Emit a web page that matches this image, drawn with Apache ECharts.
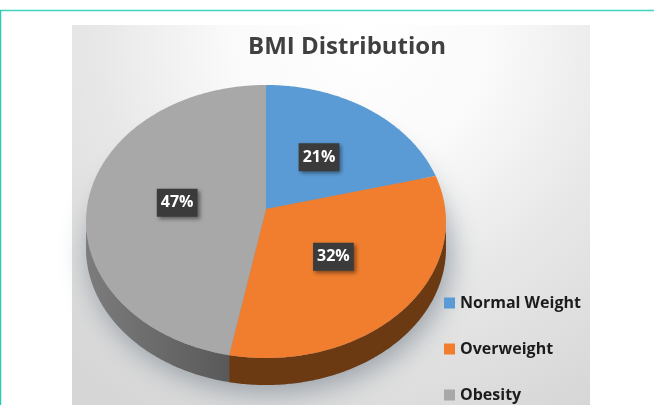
<!DOCTYPE html>
<html><head><meta charset="utf-8">
<style>html,body{margin:0;padding:0;background:#fff}#c{width:654px;height:405px}</style>
<script src="https://cdn.jsdelivr.net/npm/echarts@6/dist/echarts.min.js"></script>
</head><body><div id="c"></div>
<script>
const categories = ['Normal Weight', 'Overweight', 'Obesity'];
const shares = [21, 32, 47];
const topColors = ['#5b9bd5', '#f07e2e', '#a8a8a8'];
const sideColors = ['#34597b', '#6b3a12', '#666666'];
const titleText = 'BMI Distribution';

const total = shares.reduce((a, b) => a + b, 0);
// perspective view of the pie disc
const view = { cx: 266, cy: 209, rx: 179.2, ry: 135.4, p: 0.0916, depth: 27 };
function project(theta, r, drop) {
  const u = Math.sin(theta) * r, v = -Math.cos(theta) * r;
  const d = 1 - view.p * v;
  return [view.cx + view.rx * u / d, view.cy + view.ry * v / d + (drop || 0)];
}
function arc(a0, a1, drop) {
  const n = Math.max(2, Math.ceil(Math.abs(a1 - a0) / 0.01));
  const pts = [];
  for (let i = 0; i <= n; i++) pts.push(project(a0 + (a1 - a0) * i / n, 1, drop));
  return pts;
}
const SIDE_A = 95 * Math.PI / 180, SIDE_B = 265 * Math.PI / 180;

function renderSlice(params, api) {
  const idx = params.seriesIndex;
  const value = api.value(0);
  const before = shares.slice(0, idx).reduce((a, b) => a + b, 0);
  const a0 = before / total * 2 * Math.PI;
  const a1 = (before + value) / total * 2 * Math.PI;
  const mid = (a0 + a1) / 2;
  const kids = [];
  if (idx === 0) {
    kids.push({
      type: 'polygon', z2: 0, silent: true,
      shape: { points: arc(0, 2 * Math.PI, view.depth - 3) },
      style: { fill: '#8a9096', shadowBlur: 30, shadowColor: 'rgba(95,110,125,0.62)', shadowOffsetX: 4, shadowOffsetY: 9 }
    });
  }
  const sa = Math.max(a0, SIDE_A), sb = Math.min(a1, SIDE_B);
  if (sb > sa) {
    const fill = idx === 2
      ? { type: 'linear', x: 0, y: 0, x2: 1, y2: 0, colorStops: [{ offset: 0, color: '#7c7c7c' }, { offset: 1, color: '#595959' }] }
      : sideColors[idx];
    kids.push({
      type: 'polygon', z2: 1, silent: true,
      shape: { points: arc(sa, sb, 0).concat(arc(sb, sa, view.depth)) },
      style: { fill }
    });
  }
  kids.push({
    type: 'polygon', z2: 2, silent: true,
    shape: { points: [project(0, 0)].concat(arc(a0, a1, 0)) },
    style: { fill: topColors[idx] }
  });
  const lp = project(mid, 0.5);
  kids.push({
    type: 'text', z2: 5, silent: true, x: lp[0], y: lp[1],
    style: {
      text: value + '%', align: 'center', verticalAlign: 'middle',
      fill: '#ffffff', font: '700 16px "Open Sans"',
      backgroundColor: '#3b3b3b', padding: [6, 4, 6, 4],
      shadowBlur: 4, shadowColor: 'rgba(0,0,0,0.45)', shadowOffsetX: 2, shadowOffsetY: 2
    }
  });
  return { type: 'group', children: kids };
}

const chart = echarts.init(document.getElementById('c'), null, { renderer: 'canvas', width: 654, height: 405 });
chart.setOption({
  animation: false,
  backgroundColor: '#ffffff',
  title: {
    text: titleText, left: 347, top: 35, padding: 0, textAlign: 'center',
    textStyle: { fontFamily: 'Open Sans', fontWeight: 700, fontSize: 24, color: '#404040' }
  },
  legend: {
    orient: 'vertical', left: 444, top: 295, height: 140, padding: 0,
    itemWidth: 11, itemHeight: 11, itemGap: 30,
    icon: 'rect', selectedMode: false,
    data: categories,
    textStyle: { fontFamily: 'Open Sans', fontWeight: 700, fontSize: 16, lineHeight: 14, color: '#1c1c1c', padding: [0, 0, 0, 0] }
  },
  graphic: [
    { type: 'rect', z: -10, silent: true, shape: { x: 72, y: 25, width: 518, height: 380 },
      style: { fill: { type: 'radial', x: 0.56, y: 0.02, r: 1.15, colorStops: [
        { offset: 0, color: '#ffffff' }, { offset: 0.3, color: '#fafafa' }, { offset: 0.6, color: '#e8e8e8' }, { offset: 1, color: '#d6d6d6' }] } } },
    { type: 'line', z: -5, silent: true, shape: { x1: 0, y1: 10.5, x2: 654, y2: 10.5 }, style: { stroke: '#3fd2bc', lineWidth: 1.5 } },
    { type: 'line', z: -5, silent: true, shape: { x1: 0.5, y1: 10, x2: 0.5, y2: 405 }, style: { stroke: '#2fc9b2', lineWidth: 1.5 } }
  ],
  series: categories.map((name, i) => ({
    type: 'custom', name, coordinateSystem: 'none',
    itemStyle: { color: topColors[i] },
    renderItem: renderSlice,
    data: [[shares[i]]]
  }))
});
</script></body></html>
